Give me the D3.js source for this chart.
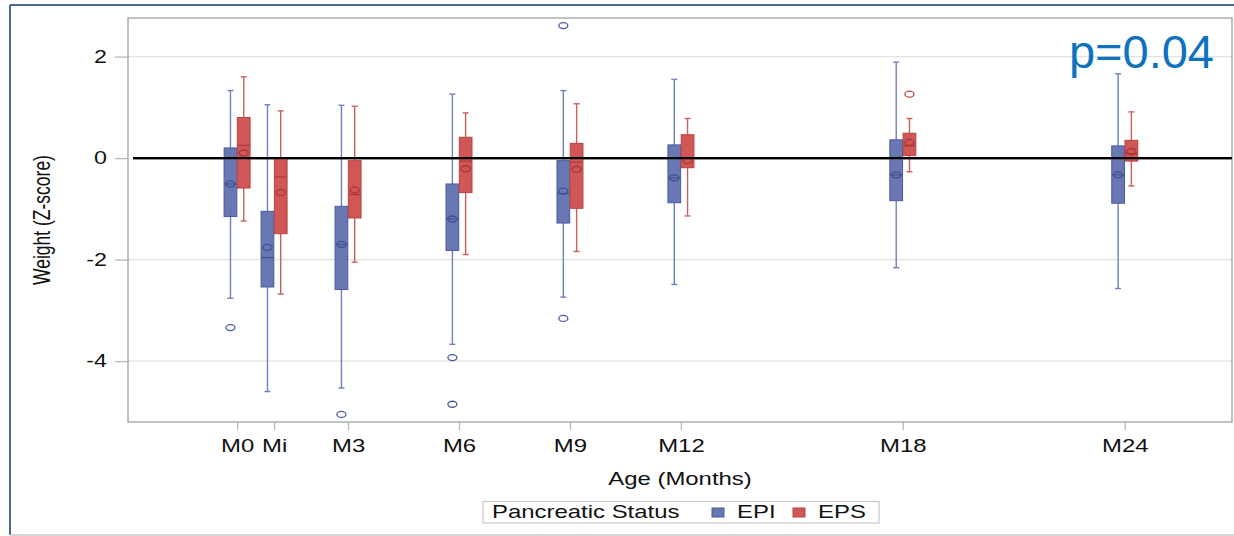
<!DOCTYPE html>
<html>
<head>
<meta charset="utf-8">
<script src="https://cdn.jsdelivr.net/npm/d3@7/dist/d3.min.js"></script>
<style>
  html, body { margin: 0; padding: 0; background: #fff; }
  svg { display: block; font-family: "Liberation Sans", Arial, sans-serif; }
</style>
</head>
<body>
<div id="chart"></div>
<script>
// visit months and their labels
const months = [0, 1, 3, 6, 9, 12, 18, 24];
const monthLabels = ['M0', 'Mi', 'M3', 'M6', 'M9', 'M12', 'M18', 'M24'];
const groups = ['EPI', 'EPS'];

// EPI box statistics (Z-score)
const epiLow    = [-2.76, -4.60, -4.53, -3.67, -2.74, -2.49, -2.16, -2.57];
const epiQ1     = [-1.15, -2.54, -2.59, -1.82, -1.28, -0.88, -0.84, -0.89];
const epiMedian = [-0.51, -1.96, -1.70, -1.20, -0.70, -0.39, -0.33, -0.33];
const epiMean   = [-0.51, -1.76, -1.70, -1.20, -0.65, -0.39, -0.33, -0.33];
const epiQ3     = [0.20, -1.05, -0.95, -0.51, -0.05, 0.26, 0.36, 0.24];
const epiHigh   = [1.33, 1.05, 1.04, 1.26, 1.33, 1.55, 1.89, 1.66];
const epiOutliers = [[-3.34], [], [-5.05], [-3.93, -4.85], [2.61, -3.16], [], [], []];

// EPS box statistics (Z-score)
const epsLow    = [-1.24, -2.68, -2.05, -1.90, -1.84, -1.14, -0.27, -0.55];
const epsQ1     = [-0.59, -1.49, -1.18, -0.68, -0.99, -0.19, 0.05, -0.06];
const epsMedian = [0.25, -0.37, -0.72, -0.06, -0.08, 0.00, 0.24, 0.09];
const epsMean   = [0.10, -0.68, -0.63, -0.21, -0.22, -0.05, 0.31, 0.13];
const epsQ3     = [0.80, 0.00, -0.05, 0.41, 0.29, 0.46, 0.49, 0.35];
const epsHigh   = [1.60, 0.93, 1.02, 0.89, 1.07, 0.78, 0.78, 0.91];
const epsOutliers = [[], [], [], [], [], [], [1.26], []];

const yTicks = [-4, -2, 0, 2];
const pText = 'p=0.04';

const W = 1234, H = 536;
const margin = { top: 18, right: 2, bottom: 114, left: 128 };
const plotW = W - margin.left - margin.right;
const plotH = H - margin.top - margin.bottom;
const sx = 1.33; // the original picture is stretched horizontally

const colors = {
  EPI: { fill: '#6977b3', stroke: '#4b5a9c', line: '#7080b8', dark: '#3f4f92' },
  EPS: { fill: '#d15656', stroke: '#b94444', line: '#c96060', dark: '#a83636' }
};

const rows = [];
months.forEach((m, i) => {
  rows.push({ month: m, group: 'EPI', low: epiLow[i], q1: epiQ1[i], median: epiMedian[i], mean: epiMean[i], q3: epiQ3[i], high: epiHigh[i], outliers: epiOutliers[i] });
  rows.push({ month: m, group: 'EPS', low: epsLow[i], q1: epsQ1[i], median: epsMedian[i], mean: epsMean[i], q3: epsQ3[i], high: epsHigh[i], outliers: epsOutliers[i] });
});

const svg = d3.select('#chart').append('svg')
  .attr('width', W)
  .attr('height', H);

// outer picture frame
svg.append('line').attr('x1', 10).attr('x2', W).attr('y1', 5).attr('y2', 5)
  .attr('stroke', '#4a6796').attr('stroke-width', 2);
svg.append('line').attr('x1', 10).attr('x2', 10).attr('y1', 5).attr('y2', 535)
  .attr('stroke', '#4a6796').attr('stroke-width', 2);
svg.append('line').attr('x1', 10).attr('x2', W).attr('y1', 535).attr('y2', 535)
  .attr('stroke', '#c8c8c8').attr('stroke-width', 1.5);

const x = d3.scaleLinear().domain([-2.95, 26.9]).range([0, plotW]);
const y = d3.scaleLinear().domain([-5.2, 2.76]).range([plotH, 0]);
const offset = d3.scaleBand().domain(groups).range([-13, 13]).paddingInner(0.04);

const chart = svg.append('g')
  .attr('transform', `translate(${margin.left},${margin.top})`);

// grid lines
chart.append('g').selectAll('line')
  .data(yTicks.filter(d => d !== 0))
  .enter().append('line')
  .attr('x1', 0).attr('x2', plotW)
  .attr('y1', d => y(d)).attr('y2', d => y(d))
  .attr('stroke', '#e2e2e2').attr('stroke-width', 1.2);

// reference line at zero
chart.append('line')
  .attr('x1', 5).attr('x2', plotW)
  .attr('y1', y(0)).attr('y2', y(0))
  .attr('stroke', '#000').attr('stroke-width', 2.2);

// axes
const yAxis = d3.axisLeft(y).tickValues(yTicks).tickSize(13).tickPadding(8).tickFormat(d3.format('d'));
const gy = chart.append('g').call(yAxis);
gy.select('.domain').remove();
gy.selectAll('.tick line').attr('stroke', '#b4b8bc').attr('stroke-width', 1.3);
gy.selectAll('.tick text')
  .attr('font-size', 17.5).attr('fill', '#111')
  .attr('x', -21 / sx)
  .attr('transform', `scale(${sx},1)`)
  .text(d => d < 0 ? '-' + Math.abs(d) : d);

const xAxis = d3.axisBottom(x).tickValues(months).tickSize(8).tickPadding(9)
  .tickFormat((d, i) => monthLabels[i]);
const gx = chart.append('g').attr('transform', `translate(0,${plotH})`).call(xAxis);
gx.select('.domain').remove();
gx.selectAll('.tick line').attr('stroke', '#b4b8bc').attr('stroke-width', 1.3);
gx.selectAll('.tick text')
  .attr('font-size', 18).attr('fill', '#111')
  .attr('transform', `scale(${sx},1)`);

// plot frame
chart.append('rect')
  .attr('x', 0).attr('y', 0).attr('width', plotW).attr('height', plotH)
  .attr('fill', 'none').attr('stroke', '#a6aaae').attr('stroke-width', 1.4);

// boxes
const box = chart.append('g').selectAll('g.box')
  .data(rows)
  .enter().append('g')
  .attr('class', 'box')
  .attr('transform', d => `translate(${x(d.month) + offset(d.group)},0)`);

const bw = offset.bandwidth();

box.append('line')
  .attr('x1', bw / 2).attr('x2', bw / 2)
  .attr('y1', d => y(d.high)).attr('y2', d => y(d.low))
  .attr('stroke', d => colors[d.group].line).attr('stroke-width', 1.4);

box.append('line')
  .attr('x1', bw / 2 - 3).attr('x2', bw / 2 + 3)
  .attr('y1', d => y(d.high)).attr('y2', d => y(d.high))
  .attr('stroke', d => colors[d.group].line).attr('stroke-width', 1.4);

box.append('line')
  .attr('x1', bw / 2 - 3).attr('x2', bw / 2 + 3)
  .attr('y1', d => y(d.low)).attr('y2', d => y(d.low))
  .attr('stroke', d => colors[d.group].line).attr('stroke-width', 1.4);

box.append('rect')
  .attr('x', 0).attr('width', bw)
  .attr('y', d => y(d.q3))
  .attr('height', d => y(d.q1) - y(d.q3))
  .attr('fill', d => colors[d.group].fill)
  .attr('stroke', d => colors[d.group].stroke).attr('stroke-width', 1);

box.append('line')
  .attr('x1', 0).attr('x2', bw)
  .attr('y1', d => y(d.median)).attr('y2', d => y(d.median))
  .attr('stroke', d => colors[d.group].dark).attr('stroke-width', 1.1);

box.append('ellipse')
  .attr('cx', bw / 2).attr('cy', d => y(d.mean))
  .attr('rx', 4.5).attr('ry', 3)
  .attr('fill', 'none')
  .attr('stroke', d => colors[d.group].dark).attr('stroke-width', 1.3);

box.selectAll('ellipse.outlier')
  .data(d => d.outliers.map(v => ({ v, group: d.group })))
  .enter().append('ellipse')
  .attr('class', 'outlier')
  .attr('cx', bw / 2).attr('cy', d => y(d.v))
  .attr('rx', 4.5).attr('ry', 3)
  .attr('fill', 'none')
  .attr('stroke', d => colors[d.group].stroke).attr('stroke-width', 1.3);

// redraw zero line on top of the boxes
chart.append('line')
  .attr('x1', 5).attr('x2', plotW)
  .attr('y1', y(0)).attr('y2', y(0))
  .attr('stroke', '#000').attr('stroke-width', 2.2);

// axis titles
svg.append('text')
  .attr('transform', `translate(${margin.left + plotW / 2},485) scale(${sx},1)`)
  .attr('text-anchor', 'middle')
  .attr('font-size', 18).attr('fill', '#111')
  .text('Age (Months)');

svg.append('text')
  .attr('transform', `translate(50,${margin.top + plotH / 2}) scale(${sx},1) rotate(-90)`)
  .attr('text-anchor', 'middle')
  .attr('font-size', 17.5).attr('fill', '#111')
  .text('Weight (Z-score)');

// p value annotation
svg.append('text')
  .attr('x', 1214).attr('y', 68)
  .attr('text-anchor', 'end')
  .attr('font-size', 47).attr('fill', '#0f72c0')
  .text(pText);

// legend
const legend = svg.append('g');
legend.append('rect')
  .attr('x', 483).attr('y', 501.5).attr('width', 396).attr('height', 21.5)
  .attr('fill', '#fff').attr('stroke', '#c8c8c8').attr('stroke-width', 1.2);
legend.append('text')
  .attr('transform', `translate(492,518) scale(${sx},1)`)
  .attr('font-size', 18).attr('fill', '#111')
  .text('Pancreatic Status');
const legendX = { EPI: 712, EPS: 793 };
groups.forEach(g => {
  legend.append('rect')
    .attr('x', legendX[g]).attr('y', 508).attr('width', 12).attr('height', 9)
    .attr('fill', colors[g].fill).attr('stroke', colors[g].stroke);
  legend.append('text')
    .attr('transform', `translate(${legendX[g] + 25},518) scale(${sx},1)`)
    .attr('font-size', 18).attr('fill', '#111')
    .text(g);
});
</script>
</body>
</html>
